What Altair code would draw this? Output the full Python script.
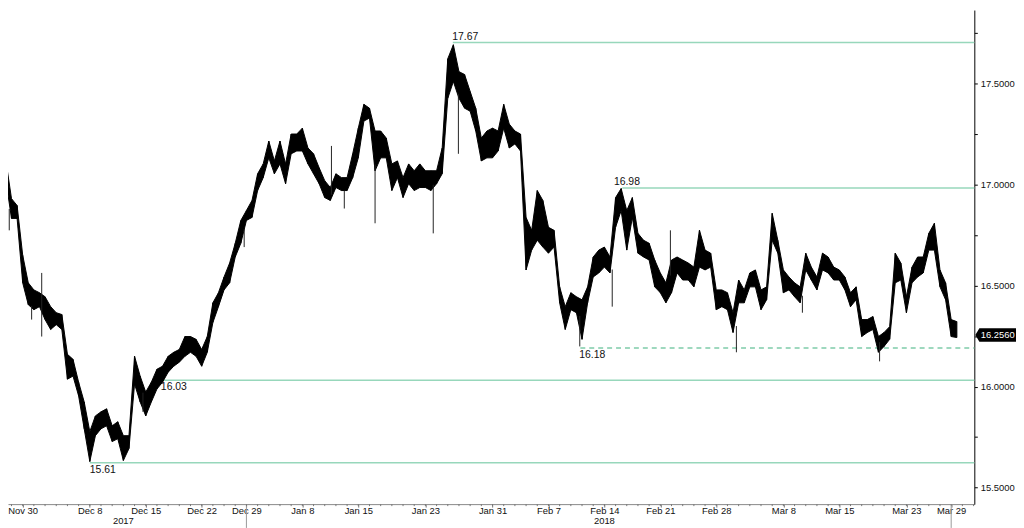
import json
import altair as alt
import numpy as np
import pandas as pd

# ---------------- data ----------------
# x = trading-day index: 0 = Nov 30 2017 ... 83 = Mar 29 2018 (weekends/holidays skipped)
t_grid = np.arange(-2.0, 84.0, 0.5)  # half-session sampling grid

bar_high = [
    17.059, 17.118, 16.931, 16.897, 16.651, 16.514, 16.479, 16.465, 16.445, 16.396,
    16.366, 16.357, 16.160, 16.135, 16.022, 15.924, 15.777, 15.855, 15.875, 15.890,
    15.806, 15.826, 15.757, 15.757, 16.150, 16.052, 15.973, 16.022, 16.086, 16.101,
    16.150, 16.170, 16.184, 16.248, 16.248, 16.234, 16.184, 16.248, 16.415, 16.465,
    16.543, 16.612, 16.710, 16.823, 16.872, 16.922, 17.054, 17.103, 17.216, 17.118,
    17.216, 17.103, 17.251, 17.251, 17.280, 17.182, 17.153, 17.084, 17.020, 16.986,
    17.054, 17.035, 17.035, 17.153, 17.280, 17.398, 17.379, 17.266, 17.266, 17.231,
    17.103, 17.118, 17.035, 17.103, 17.069, 17.103, 17.069, 17.069, 17.069, 17.182,
    17.624, 17.693, 17.560, 17.546, 17.462, 17.379, 17.231, 17.266, 17.280, 17.266,
    17.398, 17.300, 17.266, 17.251, 16.838, 16.774, 16.971, 16.922, 16.789, 16.774,
    16.494, 16.396, 16.465, 16.445, 16.430, 16.494, 16.642, 16.676, 16.691, 16.642,
    16.936, 16.981, 16.872, 16.936, 16.759, 16.725, 16.710, 16.627, 16.563, 16.514,
    16.627, 16.642, 16.627, 16.612, 16.592, 16.774, 16.676, 16.661, 16.479, 16.479,
    16.465, 16.366, 16.528, 16.479, 16.563, 16.578, 16.479, 16.494, 16.858, 16.725,
    16.578, 16.543, 16.514, 16.494, 16.661, 16.592, 16.543, 16.661, 16.642, 16.592,
    16.578, 16.543, 16.465, 16.494, 16.332, 16.332, 16.347, 16.248, 16.268, 16.297,
    16.661, 16.612, 16.445, 16.592, 16.642, 16.642, 16.759, 16.809, 16.578, 16.514,
    16.332, 16.322,
]
bar_low = [
    17.010, 17.020, 16.833, 16.833, 16.514, 16.406, 16.381, 16.396, 16.332, 16.283,
    16.307, 16.283, 16.037, 16.052, 15.954, 15.791, 15.629, 15.757, 15.791, 15.806,
    15.728, 15.742, 15.634, 15.693, 16.013, 15.924, 15.855, 15.924, 15.988, 16.022,
    16.071, 16.101, 16.121, 16.150, 16.170, 16.150, 16.101, 16.170, 16.317, 16.396,
    16.479, 16.514, 16.642, 16.710, 16.823, 16.838, 16.971, 17.035, 17.133, 17.054,
    17.103, 17.005, 17.153, 17.167, 17.167, 17.103, 17.054, 17.005, 16.936, 16.922,
    16.986, 16.971, 16.971, 17.035, 17.133, 17.315, 17.330, 17.069, 17.133, 17.133,
    16.971, 17.035, 16.936, 17.005, 16.971, 16.986, 16.986, 16.971, 17.005, 17.054,
    17.428, 17.511, 17.428, 17.379, 17.364, 17.266, 17.118, 17.133, 17.133, 17.167,
    17.280, 17.182, 17.202, 17.167, 16.578, 16.676, 16.725, 16.691, 16.661, 16.691,
    16.415, 16.283, 16.381, 16.366, 16.234, 16.415, 16.543, 16.563, 16.592, 16.563,
    16.789, 16.872, 16.676, 16.838, 16.661, 16.642, 16.627, 16.494, 16.465, 16.415,
    16.465, 16.563, 16.528, 16.528, 16.494, 16.592, 16.578, 16.592, 16.381, 16.396,
    16.381, 16.268, 16.415, 16.415, 16.494, 16.494, 16.381, 16.430, 16.725, 16.661,
    16.465, 16.479, 16.445, 16.415, 16.578, 16.528, 16.479, 16.578, 16.563, 16.528,
    16.528, 16.479, 16.396, 16.430, 16.248, 16.268, 16.283, 16.170, 16.199, 16.234,
    16.514, 16.528, 16.366, 16.514, 16.543, 16.563, 16.676, 16.676, 16.494, 16.430,
    16.248, 16.243,
]

# isolated long wicks
wick_t = [-1.2, 0.8, 1.7, 10.75, 19.8, 27.6, 28.75, 31.5, 36.7, 38.95, 49.8, 52.7, 57.9, 63.8, 69.7, 76.6]
wick_top = [16.88, 16.40, 16.563, 15.97, 16.78, 17.192, 16.97, 17.10, 17.00, 17.45, 16.35, 16.58, 16.774, 16.30, 16.45, 16.22]
wick_bot = [16.774, 16.332, 16.248, 15.875, 16.691, 16.95, 16.882, 16.809, 16.759, 17.153, 16.199, 16.396, 16.55, 16.170, 16.366, 16.125]

# horizontal high / low levels
lvl_value = [17.704, 16.984, 16.032, 15.623]
lvl_start = [38.45, 53.6, 12.35, 6.0]
lvl_label = ["17.67", "16.98", "16.03", "15.61"]
lvl_above = [True, True, False, False]
lvl_label_t = [38.4, 52.85, 12.35, 6.0]

dash_value = [16.191]
dash_start = [49.85]
dash_label = ["16.18"]
dash_label_t = [49.75]

last_price = [16.256]
last_label = ["16.2560"]

tick_idx = [0, 6, 11, 16, 20, 25, 30, 36, 42, 47, 52, 57, 62, 68, 73, 79, 83]
tick_lbl = ["Nov 30", "Dec 8", "Dec 15", "Dec 22", "Dec 29", "Jan 8", "Jan 15", "Jan 23",
            "Jan 31", "Feb 7", "Feb 14", "Feb 21", "Feb 28", "Mar 8", "Mar 15", "Mar 23", "Mar 29"]
day_ticks = list(range(-1, 86))  # one small tick per trading session
year_t = [9, 52]
year_lbl = ["2017", "2018"]
year_sep_t = [20, 83]

y_ticks = [15.5, 15.75, 16.0, 16.25, 16.5, 16.75, 17.0, 17.25, 17.5, 17.75]

# ---------------- chart ----------------
W, H = 974, 498
X_MIN, X_MAX = -1.313, 85.07
Y_MIN, Y_MAX = 15.418, 17.865
FONT = "Liberation Sans"
MINT = "#97d7bb"

xs = alt.Scale(domain=[X_MIN, X_MAX], nice=False, zero=False)
ys = alt.Scale(domain=[Y_MIN, Y_MAX], nice=False, zero=False)

label_expr = (
    f"{json.dumps(tick_lbl)}[indexof({json.dumps(tick_idx)}, round(datum.value))]"
)
x_axis = alt.Axis(
    values=tick_idx, labelExpr=label_expr, title=None, orient="bottom",
    tickSize=3, tickColor="#777", domainColor="#888", domainWidth=1,
    labelFont=FONT, labelFontSize=9.5, labelColor="#111", labelPadding=-2,
    labelOverlap=False, grid=False, labelFlush=False,
)
y_axis = alt.Axis(
    values=y_ticks, orient="right", title=None,
    labelExpr="abs(datum.value * 2 - round(datum.value * 2)) < 0.001 ? format(datum.value, '.4f') : ''",
    tickSize=3, tickColor="#000", domainColor="#000", domainWidth=1,
    labelFont=FONT, labelFontSize=9.5, labelColor="#111", labelPadding=3,
    labelOverlap=False, grid=False, labelFlush=False,
)

bars = pd.DataFrame({"t": t_grid, "hi": bar_high, "lo": bar_low})
wicks = pd.DataFrame({"t": wick_t, "top": wick_top, "bot": wick_bot})
levels = pd.DataFrame({"v": lvl_value, "s": lvl_start, "e": [X_MAX] * len(lvl_value),
                       "lab": lvl_label, "lt": lvl_label_t, "above": lvl_above})
dashed = pd.DataFrame({"v": dash_value, "s": dash_start, "e": [X_MAX] * len(dash_value),
                       "lab": dash_label, "lt": dash_label_t})
years = pd.DataFrame({"t": year_t, "lab": year_lbl})
seps = pd.DataFrame({"t": year_sep_t})
days = pd.DataFrame({"t": day_ticks})
last = pd.DataFrame({"v": last_price, "lab": last_label})

band = alt.Chart(bars).mark_area(color="#000", clip=True, interpolate="linear").encode(
    x=alt.X("t:Q", scale=xs, axis=x_axis),
    y=alt.Y("hi:Q", scale=ys, axis=y_axis),
    y2="lo:Q",
)
hi_line = alt.Chart(bars).mark_line(color="#000", strokeWidth=1.0, clip=True).encode(
    x=alt.X("t:Q", scale=xs), y=alt.Y("hi:Q", scale=ys))
lo_line = alt.Chart(bars).mark_line(color="#000", strokeWidth=1.0, clip=True).encode(
    x=alt.X("t:Q", scale=xs), y=alt.Y("lo:Q", scale=ys))
bar_rules = alt.Chart(bars).mark_rule(color="#000", strokeWidth=1.2, clip=True).encode(
    x=alt.X("t:Q", scale=xs), y=alt.Y("hi:Q", scale=ys), y2="lo:Q")
wick_rules = alt.Chart(wicks).mark_rule(color="#222", strokeWidth=1).encode(
    x=alt.X("t:Q", scale=xs), y=alt.Y("top:Q", scale=ys), y2="bot:Q")

lvl_rules = alt.Chart(levels).mark_rule(color=MINT, strokeWidth=1.5).encode(
    x=alt.X("s:Q", scale=xs), x2="e:Q", y=alt.Y("v:Q", scale=ys))
dash_rules = alt.Chart(dashed).mark_rule(color="#7fcca9", strokeWidth=1.6, strokeDash=[5, 4]).encode(
    x=alt.X("s:Q", scale=xs), x2="e:Q", y=alt.Y("v:Q", scale=ys))

lab_above = alt.Chart(levels).transform_filter("datum.above").mark_text(
    align="left", baseline="alphabetic", dy=-3, font=FONT, fontSize=10.5, color="#111").encode(
    x=alt.X("lt:Q", scale=xs), y=alt.Y("v:Q", scale=ys), text="lab:N")
lab_below = alt.Chart(levels).transform_filter("!datum.above").mark_text(
    align="left", baseline="top", dy=2, font=FONT, fontSize=10.5, color="#111").encode(
    x=alt.X("lt:Q", scale=xs), y=alt.Y("v:Q", scale=ys), text="lab:N")
lab_dash = alt.Chart(dashed).mark_text(
    align="left", baseline="top", dy=2, font=FONT, fontSize=10.5, color="#111").encode(
    x=alt.X("lt:Q", scale=xs), y=alt.Y("v:Q", scale=ys), text="lab:N")

day_tick_rules = alt.Chart(days).mark_rule(color="#777", strokeWidth=1).encode(
    x=alt.X("t:Q", scale=xs), y=alt.value(H), y2=alt.value(H + 2))
sep_rules = alt.Chart(seps).mark_rule(color="#999", strokeWidth=1).encode(
    x=alt.X("t:Q", scale=xs), y=alt.value(H + 2), y2=alt.value(H + 24))
year_text = alt.Chart(years).mark_text(
    align="center", baseline="middle", font=FONT, fontSize=9.5, color="#111").encode(
    x=alt.X("t:Q", scale=xs), y=alt.value(H + 17), text="lab:N")

box_path = "M-1,0L-0.8,-0.33L1,-0.33L1,0.33L-0.8,0.33Z"
price_box = alt.Chart(last).mark_point(
    shape=box_path, size=1681, filled=True, color="#000", opacity=1, strokeWidth=0).encode(
    x=alt.value(W + 21.5), y=alt.Y("v:Q", scale=ys))
price_text = alt.Chart(last).mark_text(
    align="center", baseline="middle", font=FONT, fontSize=9.5, color="#fff").encode(
    x=alt.value(W + 23.5), y=alt.Y("v:Q", scale=ys), text="lab:N")

chart = alt.layer(
    lvl_rules, dash_rules, band, hi_line, lo_line, bar_rules, wick_rules,
    lab_above, lab_below, lab_dash, day_tick_rules, sep_rules, year_text, price_box, price_text,
).properties(
    width=W, height=H,
    padding={"left": 0, "top": 0, "right": 42, "bottom": 22},
    autosize=alt.AutoSizeParams(type="none"),
    background="#ffffff",
).configure_view(stroke=None)

chart.save("out.html", embed_options={"renderer": "svg", "actions": False})
